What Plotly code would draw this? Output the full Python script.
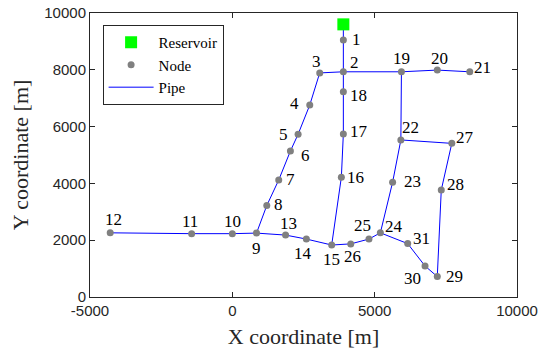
import plotly.graph_objects as go

# ---- data ----
reservoir_x = [3900]
reservoir_y = [9600]

node_ids = list(range(1, 32))
node_x = [3900, 3900, 3070, 2720, 2310, 2040, 1630, 1210, 850, 0,
          -1430, -4290, 1870, 2600, 3490, 3830, 3900, 3900, 5940, 7200,
          8340, 5920, 5630, 5200, 4800, 4160, 7710, 7340, 7200, 6770, 6160]
node_y = [9050, 7930, 7890, 6760, 5730, 5140, 4120, 3220, 2250, 2230,
          2230, 2260, 2180, 2040, 1830, 4220, 5740, 7230, 7930, 7990,
          7930, 5530, 4040, 2260, 2040, 1870, 5410, 3770, 720, 1090, 1880]

pipes = [("R", 1), (1, 2), (2, 3), (3, 4), (4, 5), (5, 6), (6, 7), (7, 8), (8, 9),
         (9, 10), (10, 11), (11, 12), (9, 13), (13, 14), (14, 15), (15, 16),
         (16, 17), (17, 18), (18, 2), (2, 19), (19, 20), (20, 21), (19, 22),
         (22, 27), (27, 28), (28, 29), (29, 30), (30, 31), (31, 24), (24, 25),
         (25, 26), (26, 15), (22, 23), (23, 24)]

x_ticks = [-5000, 0, 5000, 10000]
y_ticks = [0, 2000, 4000, 6000, 8000, 10000]

# ---- label placement (screen px: dx right, dy down) ----
label_offsets = {
    1: (13, 0), 2: (11, -9), 3: (-3, -11), 4: (-15, -2), 5: (-15, 0), 6: (15, 4),
    7: (12, 0), 8: (12, -1), 9: (0, 15), 10: (0, -12), 11: (-2, -12), 12: (3, -13),
    13: (3, -12), 14: (-3, 14), 15: (0, 14), 16: (14, 0), 17: (16, -2), 18: (15, 4),
    19: (0, -13), 20: (2, -12), 21: (13, -4), 22: (10, -12), 23: (20, -1),
    24: (14, -6), 25: (-6, -14), 26: (2, 13), 27: (13, -6), 28: (14, -5),
    29: (17, 0), 30: (-13, 12), 31: (14, -5),
}

coords = {"R": (reservoir_x[0], reservoir_y[0])}
for i, x, y in zip(node_ids, node_x, node_y):
    coords[i] = (x, y)

px, py = [], []
for a, b in pipes:
    px += [coords[a][0], coords[b][0], None]
    py += [coords[a][1], coords[b][1], None]

serif = "Liberation Serif, Times New Roman, serif"
axis_col = "#262626"

fig = go.Figure()
fig.add_trace(go.Scatter(x=px, y=py, mode="lines", name="Pipe",
                         line=dict(color="#0000FF", width=1), legendrank=3))
fig.add_trace(go.Scatter(x=node_x, y=node_y, mode="markers", name="Node",
                         marker=dict(color="#808080", size=7, symbol="circle"),
                         legendrank=2))
fig.add_trace(go.Scatter(x=reservoir_x, y=reservoir_y, mode="markers", name="Reservoir",
                         marker=dict(color="#00FF00", size=12, symbol="square"),
                         legendrank=1))

for i, x, y in zip(node_ids, node_x, node_y):
    dx, dy = label_offsets[i]
    fig.add_annotation(x=x, y=y, text=str(i), showarrow=False,
                       xshift=dx, yshift=-dy,
                       font=dict(family=serif, size=17, color="black"))

axis_common = dict(showline=True, linecolor=axis_col, linewidth=1, mirror="allticks",
                   ticks="inside", ticklen=5, tickcolor=axis_col,
                   showgrid=False, zeroline=False, automargin=False,
                   tickfont=dict(family="Liberation Sans, Arial, sans-serif", size=15,
                                 color=axis_col))

fig.update_xaxes(range=[-5000, 10000], tickvals=x_ticks,
                 ticktext=[str(v) for v in x_ticks],
                 title=dict(text="X coordinate [m]", standoff=10,
                            font=dict(family=serif, size=22, color=axis_col)),
                 **axis_common)
fig.update_yaxes(range=[0, 10000], tickvals=y_ticks,
                 ticktext=[str(v) for v in y_ticks],
                 title=dict(text="Y coordinate [m]", standoff=9,
                            font=dict(family=serif, size=22, color=axis_col)),
                 **axis_common)

fig.update_layout(
    width=538, height=351,
    margin=dict(l=90, r=21, t=13, b=54, autoexpand=False),
    paper_bgcolor="white", plot_bgcolor="white",
    legend=dict(x=0.0295, y=0.958, xanchor="left", yanchor="top",
                bgcolor="white", bordercolor=axis_col, borderwidth=1,
                font=dict(family=serif, size=15, color="black"),
                itemwidth=45, tracegroupgap=0),
    showlegend=True,
)

fig.write_html("out.html")
